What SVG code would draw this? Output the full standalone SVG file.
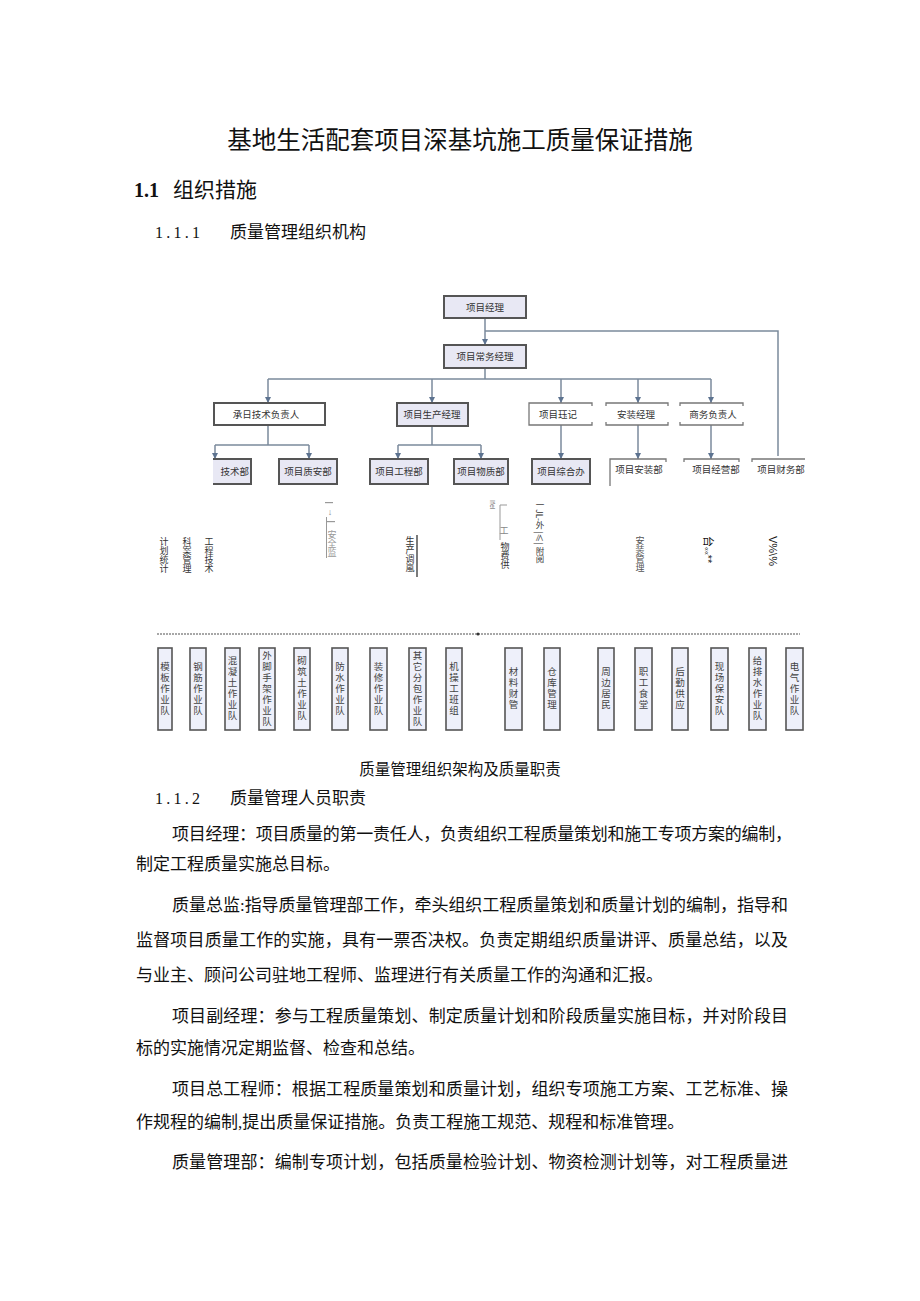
<svg xmlns="http://www.w3.org/2000/svg" width="920" height="1301" viewBox="0 0 920 1301">
<style>
.doc{font-family:"Liberation Serif","Noto Sans CJK SC",serif;fill:#111}
.cn{font-family:"Noto Sans CJK SC","Liberation Sans",sans-serif}
.bx{fill:#e8e8f4;stroke:#555;stroke-width:2}
.bw{fill:#fff;stroke:#555;stroke-width:2}
.pb{fill:none;stroke:#777;stroke-width:1.3}
.t{font-family:"Noto Sans CJK SC","Liberation Sans",sans-serif;font-size:9.5px;fill:#333;text-anchor:middle}
.v{font-family:"Noto Sans CJK SC","Liberation Sans",sans-serif;font-size:9px;fill:#333;writing-mode:vertical-rl;text-anchor:middle}
.bb{fill:#eef0fa;stroke:#555;stroke-width:1.6}
.bt{font-family:"Noto Sans CJK SC","Liberation Sans",sans-serif;font-size:9.5px;fill:#444;writing-mode:vertical-rl;text-anchor:middle;letter-spacing:1.5px}
.c{fill:none;stroke:#7b8a9c;stroke-width:1.5}
.p{font-family:"Liberation Serif","Noto Sans CJK SC",serif;font-size:17px;fill:#111}
</style>
<defs>
<marker id="ar" viewBox="0 0 10 10" refX="10" refY="5" markerWidth="4" markerHeight="4" orient="auto"><path d="M0,0L10,5L0,10z" fill="#5d7390"/></marker>
</defs>
<rect width="920" height="1301" fill="#fff"/>
<g id="header">
<text class="doc" x="460" y="149" font-size="24.5" text-anchor="middle">基地生活配套项目深基坑施工质量保证措施</text>
<text class="doc" x="134" y="197" font-size="20" font-weight="bold">1.1</text>
<text class="doc" x="173" y="197" font-size="21">组织措施</text>
<text class="doc" x="155" y="238" font-size="16" textLength="45" lengthAdjust="spacing">1.1.1</text>
<text class="doc" x="230" y="238" font-size="17">质量管理组织机构</text>
</g>
<g id="connectors">
<path class="c" d="M485,318V345" marker-end="url(#ar)"/>
<path class="c" d="M485,331H778V456"/>
<path class="c" d="M485,368V379M268,379H711"/>
<path class="c" d="M268,379V403" marker-end="url(#ar)"/>
<path class="c" d="M432,379V403" marker-end="url(#ar)"/>
<path class="c" d="M561,379V403" marker-end="url(#ar)"/>
<path class="c" d="M638,379V403" marker-end="url(#ar)"/>
<path class="c" d="M711,379V403" marker-end="url(#ar)"/>
<path class="c" d="M268,425V445M215,445H309"/>
<path class="c" d="M215,445V459" marker-end="url(#ar)"/>
<path class="c" d="M309,445V459" marker-end="url(#ar)"/>
<path class="c" d="M432,426V445M398,445H481"/>
<path class="c" d="M398,445V459" marker-end="url(#ar)"/>
<path class="c" d="M481,445V459" marker-end="url(#ar)"/>
<path class="c" d="M561,425V459" marker-end="url(#ar)"/>
<path class="c" d="M638,425V459" marker-end="url(#ar)"/>
<path class="c" d="M711,425V459" marker-end="url(#ar)"/>
</g>
<g id="n-pm"><rect class="bx" x="444" y="296" width="82" height="22"/><text class="t" x="485" y="311">项目经理</text></g>
<g id="n-epm"><rect class="bx" x="444" y="345" width="82" height="23"/><text class="t" x="485" y="360">项目常务经理</text></g>
<g id="n-tech"><rect class="bw" x="214" y="403" width="111" height="22"/><text class="t" x="266" y="418">承日技术负责人</text></g>
<g id="n-prod"><rect class="bx" x="397" y="403" width="71" height="23"/><text class="t" x="432" y="418">项目生产经理</text></g>
<g id="n-sec"><path class="pb" d="M592,406V403H529V425H592V422"/><text class="t" x="558" y="418">项目珏记</text></g>
<g id="n-inst"><path class="pb" d="M606,406V403H668V406M606,422V425H668V422"/><text class="t" x="636" y="418">安装经理</text></g>
<g id="n-biz"><path class="pb" d="M680,406V403H743V406M680,422V425H743V422"/><text class="t" x="713" y="418">商务负责人</text></g>
<g id="n-techdept"><path class="bx" d="M213,459H251V484H213"/><text class="t" x="249" y="475" style="text-anchor:end">技术部</text></g>
<g id="n-qs"><rect class="bx" x="279" y="459" width="58" height="25"/><text class="t" x="308" y="475">项目质安部</text></g>
<g id="n-eng"><rect class="bx" x="370" y="459" width="58" height="25"/><text class="t" x="399" y="475">项目工程部</text></g>
<g id="n-mat"><rect class="bx" x="454" y="459" width="54" height="25"/><text class="t" x="481" y="475">项目物质部</text></g>
<g id="n-gen"><rect class="bx" x="532" y="459" width="58" height="25"/><text class="t" x="561" y="475">项目综合办</text></g>
<g id="n-instd"><path class="pb" d="M666,462V459H610V486"/><text class="t" x="639" y="473">项目安装部</text></g>
<g id="n-bizd"><path class="pb" d="M684,462V459H739V462"/><text class="t" x="716" y="473">项目经营部</text></g>
<g id="n-fin"><path class="pb" d="M752,462V459H805"/><text class="t" x="781" y="473">项目财务部</text></g>
<g id="duties">
<text class="v" x="164" y="555">计划统计</text>
<text class="v" x="187" y="555">科案管理</text>
<text class="v" x="209" y="555">工程技术</text>
<g fill="#999" stroke="none"><rect x="325" y="502" width="8" height="1.2"/><rect x="326" y="521" width="9" height="1.2"/></g>
<text x="330" y="515" font-size="9" fill="#888" text-anchor="middle" font-family="Liberation Sans,sans-serif">↓</text>
<path d="M326.5,517V558" stroke="#999" stroke-width="1"/>
<text class="v" x="332" y="544" style="fill:#999">安全监</text>
<text class="v" x="410" y="554">生产调嵐</text>
<path d="M417,535V577" stroke="#222" stroke-width="1.2"/>
<text x="0" y="0" font-size="7" fill="#777" font-family="Liberation Sans,sans-serif" transform="translate(490,500) rotate(90)">Ifel</text>
<path d="M500,505H507M500,505V540" stroke="#999" stroke-width="1"/>
<text class="v" x="504" y="531" style="fill:#888">工</text>
<text class="v" x="505" y="556">物费供</text>
<text class="v" x="540" y="532" style="font-size:8.5px">一JL-外 |≤| 附阅</text>
<text class="v" x="640" y="554" style="fill:#555">安装管理</text>
<text x="0" y="0" font-size="11" fill="#111" font-family="Liberation Sans,Noto Sans CJK SC,sans-serif" transform="translate(704,536) rotate(90)">台<tspan font-size="7">««</tspan>**</text>
<text x="0" y="0" font-size="11" fill="#111" font-family="Liberation Sans,sans-serif" transform="translate(769,536) rotate(90)">V%\%</text>
</g>
<g id="divider">
<path d="M157,634H800" stroke="#8a8a8a" stroke-width="1.5" stroke-dasharray="2,1"/>
<circle cx="478" cy="634" r="1.5" fill="#333"/>
</g>
<g id="teams">
<g id="t1"><rect class="bb" x="158" y="648" width="14" height="82"/><text class="bt" x="165" y="689">模板作业队</text></g>
<g id="t2"><rect class="bb" x="190" y="648" width="16" height="82"/><text class="bt" x="198" y="689">钢筋作业队</text></g>
<g id="t3"><rect class="bb" x="225" y="648" width="15" height="82"/><text class="bt" x="232.5" y="689">混凝土作业队</text></g>
<g id="t4"><rect class="bb" x="259" y="648" width="16" height="82"/><text class="bt" x="267" y="689">外脚手架作业队</text></g>
<g id="t5"><rect class="bb" x="294" y="648" width="16" height="82"/><text class="bt" x="302" y="689">砌筑土作业队</text></g>
<g id="t6"><rect class="bb" x="332" y="648" width="16" height="82"/><text class="bt" x="340" y="689">防水作业队</text></g>
<g id="t7"><rect class="bb" x="370" y="648" width="17" height="82"/><text class="bt" x="378.5" y="689">装修作业队</text></g>
<g id="t8"><rect class="bb" x="409" y="648" width="17" height="82"/><text class="bt" x="417.5" y="689">其它分包作业队</text></g>
<g id="t9"><rect class="bb" x="446" y="648" width="16" height="82"/><text class="bt" x="454" y="689">机操工班组</text></g>
<g id="t10"><rect class="bb" x="505" y="648" width="17" height="82"/><text class="bt" x="513.5" y="689">材料财管</text></g>
<g id="t11"><rect class="bb" x="544" y="648" width="16" height="82"/><text class="bt" x="552" y="689">仓库管理</text></g>
<g id="t12"><rect class="bb" x="598" y="648" width="16" height="82"/><text class="bt" x="606" y="689">周边居民</text></g>
<g id="t13"><rect class="bb" x="635" y="648" width="17" height="82"/><text class="bt" x="643.5" y="689">职工食堂</text></g>
<g id="t14"><rect class="bb" x="672" y="648" width="16" height="82"/><text class="bt" x="680" y="689">后勤供应</text></g>
<g id="t15"><rect class="bb" x="711" y="648" width="17" height="82"/><text class="bt" x="719.5" y="689">现场保安队</text></g>
<g id="t16"><rect class="bb" x="749" y="648" width="17" height="82"/><text class="bt" x="757.5" y="689">给排水作业队</text></g>
<g id="t17"><rect class="bb" x="786" y="648" width="17" height="82"/><text class="bt" x="794.5" y="689">电气作业队</text></g>
</g>
<g id="body">
<text class="doc" x="460" y="775" font-size="15.5" text-anchor="middle">质量管理组织架构及质量职责</text>
<text class="doc" x="155" y="804" font-size="16" textLength="45" lengthAdjust="spacing">1.1.2</text>
<text class="doc" x="230" y="804" font-size="17">质量管理人员职责</text>
<text class="p" x="172" y="840" textLength="620" lengthAdjust="spacing">项目经理：项目质量的第一责任人，负责组织工程质量策划和施工专项方案的编制，</text>
<text class="p" x="136" y="870">制定工程质量实施总目标。</text>
<text class="p" x="172" y="911" textLength="616" lengthAdjust="spacing">质量总监:指导质量管理部工作，牵头组织工程质量策划和质量计划的编制，指导和</text>
<text class="p" x="136" y="946" textLength="652" lengthAdjust="spacing">监督项目质量工作的实施，具有一票否决权。负责定期组织质量讲评、质量总结，以及</text>
<text class="p" x="136" y="981">与业主、顾问公司驻地工程师、监理进行有关质量工作的沟通和汇报。</text>
<text class="p" x="172" y="1022" textLength="616" lengthAdjust="spacing">项目副经理：参与工程质量策划、制定质量计划和阶段质量实施目标，并对阶段目</text>
<text class="p" x="136" y="1054">标的实施情况定期监督、检查和总结。</text>
<text class="p" x="172" y="1095" textLength="616" lengthAdjust="spacing">项目总工程师：根据工程质量策划和质量计划，组织专项施工方案、工艺标准、操</text>
<text class="p" x="136" y="1128">作规程的编制,提出质量保证措施。负责工程施工规范、规程和标准管理。</text>
<text class="p" x="172" y="1168" textLength="616" lengthAdjust="spacing">质量管理部：编制专项计划，包括质量检验计划、物资检测计划等，对工程质量进</text>
</g>
</svg>
